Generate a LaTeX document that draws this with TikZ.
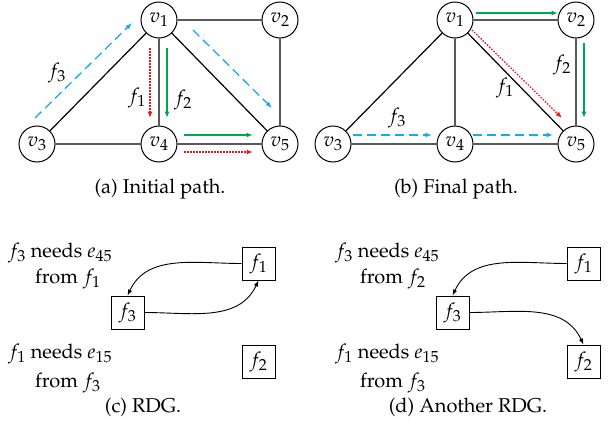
\documentclass[tikz,border=0pt]{standalone}
\usepackage[T1]{fontenc}
\usepackage{mathpazo}
\DeclareMathSizes{20}{20}{16}{12}
\usetikzlibrary{arrows.meta,calc}
\definecolor{fcyan}{RGB}{20,170,235}
\definecolor{fgreen}{RGB}{0,165,80}
\definecolor{fred}{RGB}{240,20,20}
\begin{document}
\begin{tikzpicture}[x=1pt,y=-1pt,
  txt/.style={font=\fontsize{20}{24}\selectfont},
  vert/.style={circle,draw,line width=1pt,minimum size=36pt,inner sep=0pt,txt},
  fbox/.style={draw,line width=0.9pt,minimum size=33pt,inner sep=0pt,txt},
  edge/.style={line width=1.2pt},
  tip/.style={-{Latex[length=6.5pt,width=5pt]}},
  fA/.style={tip,line width=1.3pt,fcyan,dash pattern=on 9pt off 5pt},
  fB/.style={tip,line width=1.3pt,fgreen},
  fC/.style={tip,line width=1.3pt,fred,dash pattern=on 1.5pt off 1.5pt},
  lab/.style={txt,inner sep=0pt},
  rdg/.style={-{Latex[length=6pt,width=4.5pt]},line width=0.9pt},
]
\useasboundingbox (0,0) rectangle (611,434);

% ---------- (a) ----------
\node[vert] (a1) at (159,20) {$v_1$};
\node[vert] (a2) at (280,20) {$v_2$};
\node[vert] (a3) at (37,144) {$v_3$};
\node[vert] (a4) at (159,144) {$v_4$};
\node[vert] (a5) at (280,144) {$v_5$};
\draw[edge] (a1)--(a2) (a1)--(a3) (a1)--(a4) (a1)--(a5) (a2)--(a5) (a3)--(a4) (a4)--(a5);

\coordinate (aA1) at (35,118);  \coordinate (aA2) at (132,23);
\coordinate (aC1) at (150,48);  \coordinate (aC2) at (150,118);
\coordinate (aB1) at (167,48);  \coordinate (aB2) at (167,118);
\coordinate (aA3) at (193,30);  \coordinate (aA4) at (272,108);
\coordinate (aB3) at (184,135); \coordinate (aB4) at (253,135);
\coordinate (aC3) at (184,152); \coordinate (aC4) at (253,152);
\draw[fA] (aA1) -- (aA2);
\draw[fC] (aC1) -- (aC2);
\draw[fB] (aB1) -- (aB2);
\draw[fA] (aA3) -- (aA4);
\draw[fB] (aB3) -- (aB4);
\draw[fC] (aC3) -- (aC4);
\node[lab] (al3) at (57,73) {$f_3$};
\node[lab] (al1) at (137,98) {$f_1$};
\node[lab] (al2) at (183,100) {$f_2$};
\node[lab,anchor=base] (capa) at (160,193) {(a) Initial path.};

% ---------- (b) ----------
\node[vert] (b1) at (455,20) {$v_1$};
\node[vert] (b2) at (576,20) {$v_2$};
\node[vert] (b3) at (333,144) {$v_3$};
\node[vert] (b4) at (455,144) {$v_4$};
\node[vert] (b5) at (576,144) {$v_5$};
\draw[edge] (b1)--(b2) (b1)--(b3) (b1)--(b4) (b1)--(b5) (b2)--(b5) (b3)--(b4) (b4)--(b5);

\coordinate (bB1) at (476,13);  \coordinate (bB2) at (558,13);
\coordinate (bB3) at (584,43);  \coordinate (bB4) at (584,118);
\coordinate (bC1) at (472,30);  \coordinate (bC2) at (562,118);
\coordinate (bA1) at (353,135); \coordinate (bA2) at (432,135);
\coordinate (bA3) at (473,135); \coordinate (bA4) at (553,135);
\draw[fB] (bB1) -- (bB2);
\draw[fB] (bB3) -- (bB4);
\draw[fC] (bC1) -- (bC2);
\draw[fA] (bA1) -- (bA2);
\draw[fA] (bA3) -- (bA4);
\node[lab] (bl2) at (562,65) {$f_2$};
\node[lab] (bl1) at (505,88) {$f_1$};
\node[lab] (bl3) at (397,118) {$f_3$};
\node[lab,anchor=base] (capb) at (456,193) {(b) Final path.};

% ---------- (c) ----------
\node[lab,anchor=base west] (ct1) at (8,257) {$f_3$ needs $e_{45}$};
\node[lab,anchor=base west] (ct2) at (35,283) {from $f_1$};
\node[lab,anchor=base west] (ct3) at (8,358) {$f_1$ needs $e_{15}$};
\node[lab,anchor=base west] (ct4) at (35,387) {from $f_3$};
\node[fbox] (c1) at (258.5,263.5) {$f_1$};
\node[fbox] (c3) at (127.5,312.5) {$f_3$};
\node[fbox] (c2) at (258.5,361.5) {$f_2$};
\draw[rdg] (c1.west) to[out=180,in=65] (c3.north);
\draw[rdg] (c3.east) to[out=0,in=-115] (c1.south);
\node[lab,anchor=base] (capc) at (143,412) {(c) RDG.};

% ---------- (d) ----------
\node[lab,anchor=base west] (dt1) at (335,257) {$f_3$ needs $e_{45}$};
\node[lab,anchor=base west] (dt2) at (360,283) {from $f_2$};
\node[lab,anchor=base west] (dt3) at (335,358) {$f_1$ needs $e_{15}$};
\node[lab,anchor=base west] (dt4) at (360,387) {from $f_3$};
\node[fbox] (d1) at (583.5,263.5) {$f_1$};
\node[fbox] (d3) at (452.5,312.5) {$f_3$};
\node[fbox] (d2) at (583.5,361.5) {$f_2$};
\draw[rdg] (d1.west) to[out=180,in=65] (d3.north);
\draw[rdg] (d3.east) to[out=0,in=115] (d2.north);
\node[lab,anchor=base] (capd) at (468,412) {(d) Another RDG.};
\end{tikzpicture}
\end{document}
